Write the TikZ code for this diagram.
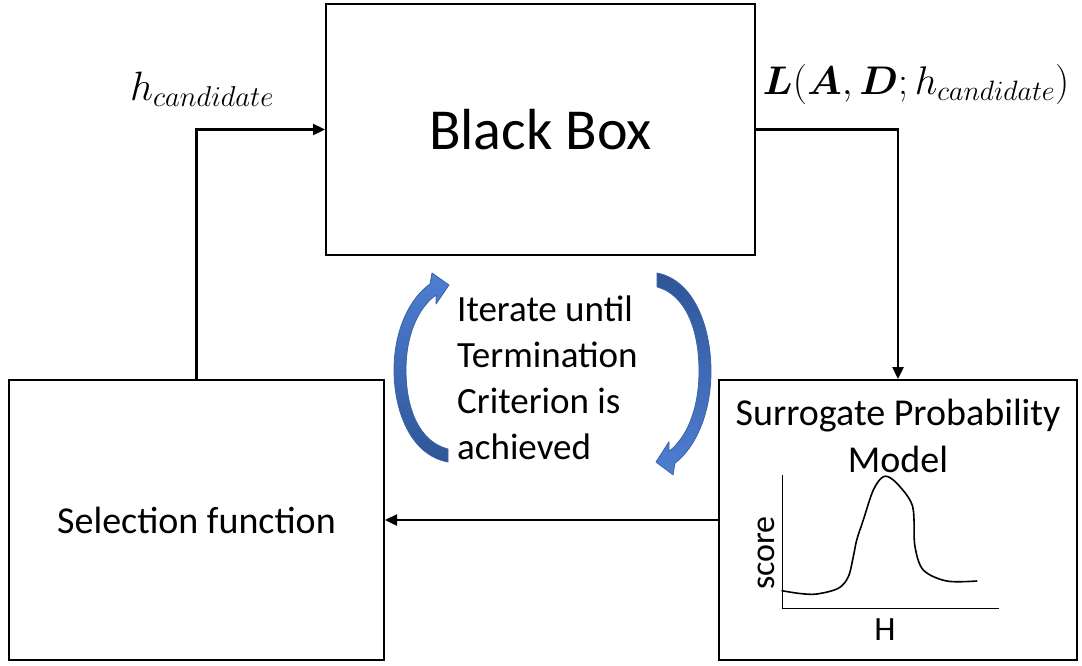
\RequirePackage{fix-cm}
\documentclass[tikz,border=0pt]{standalone}
\usepackage{bm}
\usepackage{fontspec}
\setmainfont{Carlito}
\usetikzlibrary{arrows.meta}
\definecolor{loopLight}{HTML}{4F7FD3}
\definecolor{loopDark}{HTML}{2F5597}
\definecolor{loopEdge}{HTML}{3A62A8}
\tikzset{
  blockbox/.style={draw=black, line width=2pt, inner sep=0pt, align=center},
  flow/.style={draw=black, line width=2.4pt, -{Triangle[length=12pt,width=11pt]}},
  label/.style={inner sep=0pt},
  loopshape/.style={draw=loopEdge, line width=0.8pt, line join=round},
  curve/.style={draw=black, line width=1.6pt, line join=round, line cap=round},
  axis/.style={draw=black, line width=1pt}
}
\begin{document}
\begin{tikzpicture}[x=1pt,y=-1pt]
\useasboundingbox (0,0) rectangle (1082,665);

% main blocks
\node[blockbox, minimum width=429, minimum height=251,
      font=\fontsize{58}{70}\selectfont] (bb) at (540.5,129.5) {Black Box};
\node[blockbox, minimum width=375, minimum height=280,
      font=\fontsize{38}{46}\selectfont] (sel) at (196.5,520) {Selection function};
\node[blockbox, minimum width=358, minimum height=280] (sur) at (898,520) {};

% surrogate model contents
\node[label, align=center, font=\fontsize{38}{47}\selectfont] (surtitle) at (898,436)
  {Surrogate Probability\\Model};
\coordinate (origin) at (782,608);
\coordinate (yend) at (782,475);
\coordinate (xend) at (999,608);
\draw[axis] (yend) -- (origin) -- (xend);
\draw[curve] plot[smooth, tension=0.55] coordinates {
  (782,590.7) (800,593.5) (816.7,594) (838.3,588.3) (848.3,576.7)
  (853.3,556.7) (856.7,540) (863.3,520) (873.3,490) (883.3,476.7)
  (893.3,480) (906.7,495) (912.7,506.7) (914,520) (915,546.7)
  (923.3,570) (946.7,581) (976.7,581)};
\node[label, rotate=90, font=\fontsize{34}{40}\selectfont] (score) at (766,553) {score};
\node[label, font=\fontsize{34}{40}\selectfont] (haxis) at (885,630) {H};

% loop text
\node[label, anchor=west, align=left, font=\fontsize{37}{46}\selectfont] (iter) at (457,378)
  {Iterate until\\Termination\\Criterion is\\achieved};

% curved loop arrows
\shadedraw[loopshape, top color=loopLight, bottom color=loopDark]
  (448,462) .. controls (410,455) and (394,410) .. (394,370)
  .. controls (394,330) and (410,298) .. (430,284)
  -- (432,273) -- (449,285) -- (436,304) -- (436,295)
  .. controls (418,308) and (406,335) .. (406,370)
  .. controls (406,410) and (420,442) .. (448,449) -- cycle;
\shadedraw[loopshape, top color=loopDark, bottom color=loopLight]
  (657,273) .. controls (695,280.5) and (711,328.5) .. (711,371.2)
  .. controls (711,414) and (695,448.1) .. (675,463.1)
  -- (673,474.8) -- (656,462) -- (669,441.7) -- (669,451.3)
  .. controls (687,437.4) and (699,408.6) .. (699,371.2)
  .. controls (699,328.5) and (685,294.4) .. (657,286.9) -- cycle;

% connectors
\draw[flow] (sel.north) |- (bb.west);
\draw[flow] (bb.east) -| (sur.north);
\draw[flow] (sur.west) -- (sel.east);

% connector labels
\node[label, font=\fontsize{41}{48}\selectfont] (hlabel) at (202,89) {$h_{candidate}$};
\node[label, font=\fontsize{40}{48}\selectfont] (llabel) at (916,84) {$\bm{L}(\bm{A},\bm{D};h_{candidate})$};
\end{tikzpicture}
\end{document}
